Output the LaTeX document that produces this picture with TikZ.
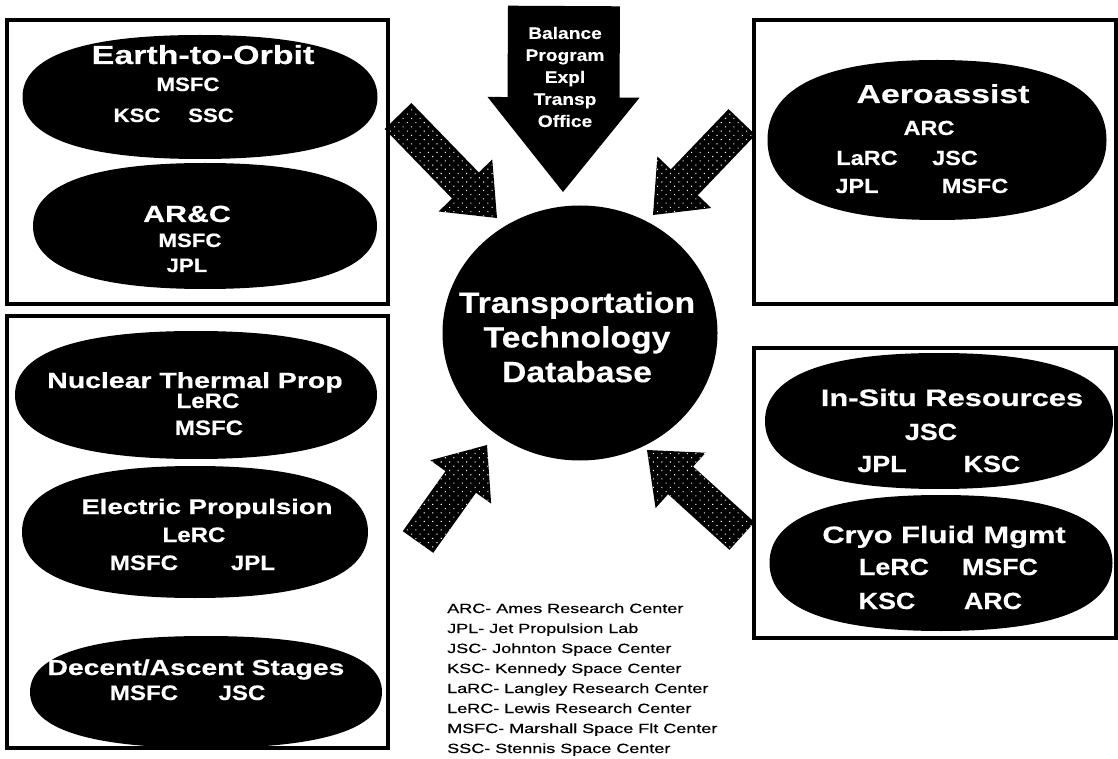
\documentclass[tikz,border=0pt]{standalone}
\usepackage{fontspec}
\setmainfont{Liberation Sans}
\newfontfamily\ttlfont[FakeStretch=1.3,FakeBold=0.6]{Liberation Sans}
\newfontfamily\subfont[FakeStretch=1.15,FakeBold=0.4]{Liberation Sans}
\newfontfamily\legfont[FakeStretch=1.35,FakeBold=0.5]{Liberation Sans}
\usetikzlibrary{shapes.geometric,calc,patterns.meta}

\tikzset{
  frame/.style={line width=3pt},
  oval/.style 2 args={ellipse, fill=black, inner sep=0pt, outer sep=0pt,
    minimum width=#1*0.75pt, minimum height=#2*0.75pt},
  ttl/.style={text=white, anchor=base, inner sep=0pt,
    font=\ttlfont\bfseries\fontsize{#1}{#1}\selectfont},
  sub/.style={text=white, anchor=base, inner sep=0pt,
    font=\subfont\bfseries\fontsize{#1}{#1}\selectfont},
  hubtext/.style={text=white, align=center, inner sep=0pt,
    font=\subfont\bfseries\fontsize{22}{26}\selectfont},
  toptext/.style={text=white, align=center, inner sep=0pt,
    font=\subfont\bfseries\fontsize{12.5}{16.5}\selectfont},
  legend/.style={anchor=base west, inner sep=0pt,
    font=\legfont\fontsize{10}{12}\selectfont},
  solidarrow/.style={fill=black},
  dotarrow/.style={fill=black,
    postaction={pattern={Dots[distance=4.5pt,radius=0.55pt,angle=45]}, pattern color=white}}
}

% block arrow: style, tail, tip, half shaft, half head, head length
\newcommand{\fatarrow}[6]{%
  \coordinate (#2-b) at ($(#3)!#6!(#2)$);
  \fill[#1] ($(#2)!#4!90:(#3)$) -- ($(#2-b)!#4!90:(#3)$) -- ($(#2-b)!#5!90:(#3)$)
    -- (#3) -- ($(#2-b)!#5!-90:(#3)$) -- ($(#2-b)!#4!-90:(#3)$)
    -- ($(#2)!#4!-90:(#3)$) -- cycle;}

% fat oval: name, centre, width, height (px)
\newcommand{\blob}[4]{%
  \node[ellipse, inner sep=0pt, outer sep=0pt,
    minimum width=#3*0.75pt, minimum height=#4*0.75pt] (#1) at (#2) {};
  \fill (#1.east) .. controls +(0,{-0.66*#4/2}) and +({0.66*#3/2},0) .. (#1.north)
    .. controls +({-0.66*#3/2},0) and +(0,{-0.66*#4/2}) .. (#1.west)
    .. controls +(0,{0.66*#4/2}) and +({-0.66*#3/2},0) .. (#1.south)
    .. controls +({0.66*#3/2},0) and +(0,{0.66*#4/2}) .. (#1.east) -- cycle;}

\begin{document}
\begin{tikzpicture}[x=0.75pt,y=-0.75pt]
\fill[white] (0,0) rectangle (1118,759);
\useasboundingbox (0,0) rectangle (1118,759);

% arrows into the database
\coordinate (top-s) at (564,6);
\coordinate (top-e) at (563,192);
\fatarrow{solidarrow}{top-s}{top-e}{42pt}{57pt}{71pt}
\node[toptext] (office) at (565,77) {Balance\\Program\\Expl\\Transp\\Office};

\coordinate (nw-s) at (398,116);
\coordinate (nw-e) at (497,218);
\coordinate (ne-s) at (742,122);
\coordinate (ne-e) at (653,215);
\coordinate (sw-s) at (418,542);
\coordinate (sw-e) at (487,445);
\coordinate (se-s) at (742,536);
\coordinate (se-e) at (647,450);
\fatarrow{dotarrow}{nw-s}{nw-e}{14pt}{28pt}{34pt}
\fatarrow{dotarrow}{ne-s}{ne-e}{14pt}{28pt}{34pt}
\fatarrow{dotarrow}{sw-s}{sw-e}{14pt}{28pt}{34pt}
\fatarrow{dotarrow}{se-s}{se-e}{14pt}{28pt}{34pt}

% frames
\draw[frame] (7,20) rectangle (388,304);
\draw[frame] (7,316) rectangle (388,748);
\draw[frame] (754,20) rectangle (1116,304);
\draw[frame] (754,348) rectangle (1116,638);

% database
\node[oval={275}{255}] (hub) at (580,333) {};
\node[hubtext] (hub-t) at (577,337) {Transportation\\Technology\\Database};

% left top
\blob{eto}{200,97}{355}{124}
\node[ttl=19.6] (eto-t) at (203,64) {Earth-to-Orbit};
\node[sub=14.5] (eto-1) at (188,91) {MSFC};
\node[sub=14.5] (eto-2) at (137,122) {KSC};
\node[sub=14.5] (eto-3) at (211,122) {SSC};

\blob{arc}{205,226}{344}{126}
\node[ttl=17.5] (arc-t) at (187,222) {AR\&C};
\node[sub=14.5] (arc-1) at (190,247) {MSFC};
\node[sub=14.5] (arc-2) at (187,272) {JPL};

% left bottom
\blob{ntp}{196,395}{362}{128}
\node[ttl=16.4] (ntp-t) at (195,388) {Nuclear Thermal Prop};
\node[sub=15.7] (ntp-1) at (208,408) {LeRC};
\node[sub=15.7] (ntp-2) at (209,435) {MSFC};

\blob{elp}{195,532}{346}{132}
\node[ttl=15.9] (elp-t) at (207,514) {Electric Propulsion};
\node[sub=15.7] (elp-1) at (194,542) {LeRC};
\node[sub=15.7] (elp-2) at (144,570) {MSFC};
\node[sub=15.7] (elp-3) at (253,570) {JPL};

\blob{das}{206,692}{352}{112}
\node[ttl=16.3] (das-t) at (196,675) {Decent/Ascent Stages};
\node[sub=15.7] (das-1) at (144,700) {MSFC};
\node[sub=15.7] (das-2) at (242,700) {JSC};

% right top
\blob{aer}{937,140}{339}{160}
\node[ttl=19.5] (aer-t) at (943,103) {Aeroassist};
\node[sub=15.3] (aer-1) at (929,135) {ARC};
\node[sub=15.3] (aer-2) at (867,165) {LaRC};
\node[sub=15.3] (aer-3) at (955,165) {JSC};
\node[sub=15.3] (aer-4) at (857,193) {JPL};
\node[sub=15.3] (aer-5) at (975,193) {MSFC};

% right bottom
\blob{isr}{939,421}{348}{136}
\node[ttl=17.8] (isr-t) at (952,406) {In-Situ Resources};
\node[sub=17.5] (isr-1) at (931,440) {JSC};
\node[sub=17.5] (isr-2) at (882,472) {JPL};
\node[sub=17.5] (isr-3) at (992,472) {KSC};

\blob{cfm}{941,563}{343}{136}
\node[ttl=17.8] (cfm-t) at (944,543) {Cryo Fluid Mgmt};
\node[sub=17.5] (cfm-1) at (894,575) {LeRC};
\node[sub=17.5] (cfm-2) at (1000,575) {MSFC};
\node[sub=17.5] (cfm-3) at (887,609) {KSC};
\node[sub=17.5] (cfm-4) at (993,609) {ARC};

% key
\foreach \txt [count=\k from 0] in {ARC- Ames Research Center, JPL- Jet Propulsion Lab,
    JSC- Johnton Space Center, KSC- Kennedy Space Center, LaRC- Langley Research Center,
    LeRC- Lewis Research Center, MSFC- Marshall Space Flt Center, SSC- Stennis Space Center}
  \node[legend] (key\k) at (447,{613+20*\k}) {\txt};
\end{tikzpicture}
\end{document}
